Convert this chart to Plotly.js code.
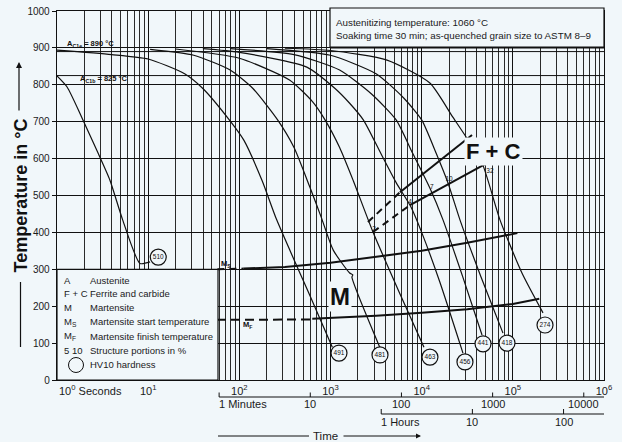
<!DOCTYPE html>
<html><head><meta charset="utf-8">
<script src="https://cdn.plot.ly/plotly-3.0.1.min.js"></script>
<style>html,body{margin:0;padding:0;background:#f1f7fa;}#chart{width:622px;height:442px;}</style>
</head><body><div id="chart"></div>
<script>
// ---------- data (time in seconds, temperature in °C) ----------
const acTime = [1, 1e6];
const ac1eTemp = [890, 890];
const ac1bTemp = [825, 825];

const c1Time = [1, 1.29, 1.86, 2.82, 3.8, 5.25, 8.13, 10.5];
const c1Temp = [824, 794, 713, 615, 542, 434, 316, 320];

const c2Time = [1, 3.98, 10, 25.1, 39.8, 77.6, 112, 178, 257, 631, 1047];
const c2Temp = [894, 882, 870, 830, 790, 705, 650, 540, 434, 214, 89];

const c3Time = [10.5, 31.6, 79.4, 141, 263, 398, 589, 794, 1072, 1622, 1758, 1718, 3467];
const c3Temp = [896, 880, 840, 790, 705, 630, 525, 440, 352, 290, 285, 279, 89];

const c4Time = [20, 100, 355, 631, 871, 1259, 1778, 2924, 5623, 10593];
const c4Temp = [897, 872, 813, 755, 705, 630, 540, 401, 240, 89];

const c5Time = [39.8, 100, 550, 1122, 1622, 2291, 3548, 5248, 7586, 10000, 15849, 28379];
const c5Temp = [898, 888, 848, 790, 750, 705, 615, 535, 470, 400, 265, 73];

const c6Time = [79.4, 398, 1259, 2818, 5248, 7943, 12303, 17140, 28184, 45920];
const c6Temp = [898, 882, 840, 775, 705, 615, 520, 434, 280, 122];

const c7Time = [200, 1000, 3162, 6310, 10000, 14125, 19454, 26303, 44668, 77983];
const c7Temp = [898, 880, 830, 765, 705, 620, 534, 434, 280, 127];

const c8Time = [316, 1000, 4169, 12303, 21878, 32359, 46774, 72277, 125893, 214289];
const c8Temp = [899, 893, 867, 805, 713, 650, 583, 434, 290, 182];

const hvTime = [12.9, 1239, 3491, 12330, 29850, 47100, 86300, 225400];
const hvTemp = [333, 73, 68, 62, 49, 98, 100, 149];
const hvLabels = ['510', '491', '481', '463', '456', '441', '418', '274'];

const msDashTime = [57.5, 112];
const msDashTemp = [300, 302];
const msTime = [112, 316, 1000, 3162, 10000, 31623, 112202];
const msTemp = [302, 306, 318, 333, 350, 372, 398];

const mfDashTime = [56.9, 631];
const mfDashTemp = [163, 164];
const mfTime = [631, 1000, 3162, 10000, 31623, 100000, 194984];
const mfTemp = [166, 168, 174, 182, 192, 206, 220];

const fcStartDashTime = [2576, 5781];
const fcStartDashTemp = [428, 509];
const fcStartTime = [5781, 35645];
const fcStartTemp = [509, 664];

const fcEndDashTime = [2924, 7447];
const fcEndDashTemp = [401, 474];
const fcEndTime = [7447, 52000];
const fcEndTemp = [474, 588];

const pctLabels = ['2', '4', '7', '10', '32'];
const pctTime = [2999, 7447, 12880, 19950, 56100];
const pctTemp = [409, 481, 521, 545, 566];

const yTicks = [0, 100, 200, 300, 400, 500, 600, 700, 800, 900, 1000];
const xTickVals = [1, 10, 100, 1e3, 1e4, 1e5, 1e6];
const xTickText = ['', '10<sup>1</sup>', '10<sup>2</sup>', '10<sup>3</sup>', '10<sup>4</sup>', '10<sup>5</sup>', '10<sup>6</sup>'];
const minuteVals = [60, 600, 6000, 60000, 600000];
const minuteText = ['1 Minutes', '10', '100', '1000', '10000'];
const hourVals = [3600, 36000, 360000];
const hourText = ['1 Hours', '10', '100'];

const legendKeys = ['A', 'F + C', 'M', 'M<sub>S</sub>', 'M<sub>F</sub>', '5 10', ''];
const legendTexts = ['Austenite', 'Ferrite and carbide', 'Martensite', 'Martensite start temperature',
  'Martensite finish temperature', 'Structure portions in %', 'HV10 hardness'];

const boxLines = ['Austenitizing temperature: 1060 °C', 'Soaking time 30 min; as-quenched grain size to ASTM 8–9'];

// ---------- style ----------
const BG = '#f1f7fa';
const INK = '#111111';
const FONT = 'Liberation Sans, Arial, sans-serif';

const minorVals = [];
for (let d = 0; d < 6; d++) for (let m = 2; m <= 9; m++) minorVals.push(m * Math.pow(10, d));

function curve(x, y) {
  return {x: x, y: y, type: 'scatter', mode: 'lines', hoverinfo: 'skip',
    line: {color: INK, width: 1.2, shape: 'spline', smoothing: 0.6}};
}
function thick(x, y, dash) {
  return {x: x, y: y, type: 'scatter', mode: 'lines', hoverinfo: 'skip',
    line: {color: INK, width: 2, dash: dash || 'solid'}};
}

const traces = [
  {x: acTime, y: ac1eTemp, type: 'scatter', mode: 'lines', line: {color: INK, width: 1}},
  {x: acTime, y: ac1bTemp, type: 'scatter', mode: 'lines', line: {color: INK, width: 1}},
  curve(c1Time, c1Temp), curve(c2Time, c2Temp), curve(c3Time, c3Temp), curve(c4Time, c4Temp),
  curve(c5Time, c5Temp), curve(c6Time, c6Temp), curve(c7Time, c7Temp), curve(c8Time, c8Temp),
  thick(msDashTime, msDashTemp, '7px,5px'), thick(msTime, msTemp),
  thick(mfDashTime, mfDashTemp, '9px,5px'), thick(mfTime, mfTemp),
  thick(fcStartDashTime, fcStartDashTemp, '7px,5px'), thick(fcStartTime, fcStartTemp),
  thick(fcEndDashTime, fcEndDashTemp, '7px,5px'), thick(fcEndTime, fcEndTemp),
  {x: hvTime, y: hvTemp, type: 'scatter', mode: 'markers+text', text: hvLabels,
    textposition: 'middle center', textfont: {size: 6.5, color: INK, family: FONT},
    marker: {symbol: 'circle', size: 16, color: BG, line: {color: INK, width: 1.2}}},
  {x: pctTime, y: pctTemp, type: 'scatter', mode: 'text', text: pctLabels,
    textposition: 'middle center', textfont: {size: 6.5, color: INK, family: FONT}}
];

// pixel helpers for paper coordinates (plot area x 57..604, y 11..380)
const px = p => (p - 57) / 547;
const py = p => (380 - p) / 369;

const shapes = [
  {type: 'rect', xref: 'paper', yref: 'paper', x0: 0, x1: px(218), y0: 0, y1: 0.3,
    fillcolor: BG, line: {color: INK, width: 1.2}},
  {type: 'rect', xref: 'paper', yref: 'paper', x0: px(330), x1: 1, y0: py(47.5), y1: py(8),
    fillcolor: BG, line: {color: INK, width: 1.2}},
  {type: 'line', xref: 'paper', yref: 'paper', x0: px(330), x1: 1, y0: py(47.5), y1: py(47.5),
    line: {color: INK, width: 2}},
  {type: 'circle', xref: 'paper', yref: 'paper', x0: px(68.5), x1: px(83.5), y0: py(372.5), y1: py(357.5),
    line: {color: INK, width: 1}},
  {type: 'line', xref: 'paper', yref: 'paper', x0: px(20.5), x1: px(20.5), y0: py(347), y1: py(282),
    line: {color: INK, width: 1.2}},
  {type: 'line', xref: 'paper', yref: 'paper', x0: px(218), x1: px(309), y0: py(436), y1: py(436),
    line: {color: INK, width: 1}},
  {type: 'line', xref: 'x', yref: 'paper', x0: minuteVals[0], x1: 1e6, y0: py(397), y1: py(397),
    line: {color: INK, width: 1.2}},
  {type: 'line', xref: 'x', yref: 'paper', x0: hourVals[0], x1: 1e6, y0: py(414), y1: py(414),
    line: {color: INK, width: 1.2}}
];
minuteVals.forEach(v => shapes.push({type: 'line', xref: 'x', yref: 'paper', x0: v, x1: v,
  y0: py(397), y1: py(392.5), line: {color: INK, width: 1}}));
hourVals.forEach(v => shapes.push({type: 'line', xref: 'x', yref: 'paper', x0: v, x1: v,
  y0: py(414), y1: py(409), line: {color: INK, width: 1}}));

const annotations = [];
const ann = o => annotations.push(Object.assign({showarrow: false, font: {family: FONT, size: 10, color: '#1a1a1a'}}, o));

ann({xref: 'x', yref: 'paper', x: 0, y: 0, xanchor: 'left', yanchor: 'top', yshift: -1,
  text: '10<sup>0</sup> Seconds', font: {family: FONT, size: 11, color: '#1a1a1a'}});
minuteVals.forEach((v, i) => ann({xref: 'x', yref: 'paper', x: Math.log10(v), y: py(403.5),
  xanchor: i === 0 ? 'left' : 'center', yanchor: 'middle', xshift: i === 0 ? -2 : 0, text: minuteText[i],
  font: {family: FONT, size: 11, color: '#1a1a1a'}}));
hourVals.forEach((v, i) => ann({xref: 'x', yref: 'paper', x: Math.log10(v), y: py(422),
  xanchor: i === 0 ? 'left' : 'center', yanchor: 'middle', xshift: i === 0 ? -2 : 0, text: hourText[i],
  font: {family: FONT, size: 11, color: '#1a1a1a'}}));
ann({xref: 'paper', yref: 'paper', x: px(325.5), y: py(436), xanchor: 'center', yanchor: 'middle',
  text: 'Time', font: {family: FONT, size: 11.5, color: '#1a1a1a'}});
annotations.push({xref: 'paper', yref: 'paper', x: px(421), y: py(436), ax: -79, ay: 0, text: '',
  showarrow: true, arrowhead: 2, arrowsize: 1, arrowwidth: 1, arrowcolor: INK});

ann({xref: 'paper', yref: 'paper', x: px(20.5), y: py(196), xanchor: 'center', yanchor: 'middle',
  textangle: -90, text: '<b>Temperature in °C</b>', font: {family: FONT, size: 18, color: '#111'}});
annotations.push({xref: 'paper', yref: 'paper', x: px(19), y: py(62), ax: 0, ay: 50, text: '',
  showarrow: true, arrowhead: 2, arrowsize: 1, arrowwidth: 1.2, arrowcolor: INK});

boxLines.forEach((t, i) => ann({xref: 'paper', yref: 'paper', x: px(334), y: py(i === 0 ? 22.5 : 35),
  xanchor: 'left', yanchor: 'middle', text: t, font: {family: FONT, size: 9.8, color: '#1a1a1a'}}));

const rowY = [280, 293, 307.5, 321.5, 336, 350, 364.5];
legendKeys.forEach((k, i) => {
  if (k) ann({xref: 'paper', yref: 'paper', x: px(62), y: py(rowY[i]), xanchor: 'left', yanchor: 'middle',
    text: k, font: {family: FONT, size: 9.5, color: '#1a1a1a'}});
  ann({xref: 'paper', yref: 'paper', x: px(87.5), y: py(rowY[i]), xanchor: 'left', yanchor: 'middle',
    text: legendTexts[i], font: {family: FONT, size: 9.5, color: '#1a1a1a'}});
});

ann({xref: 'paper', yref: 'y', x: px(65), y: 910, xanchor: 'left', yanchor: 'middle',
  text: '<b>A<sub>C1e</sub> = 890 °C</b>', font: {family: FONT, size: 7.5, color: INK}});
ann({xref: 'paper', yref: 'y', x: px(78), y: 815, xanchor: 'left', yanchor: 'middle',
  text: '<b>A<sub>C1b</sub> = 825 °C</b>', font: {family: FONT, size: 7.5, color: INK}});
ann({xref: 'x', yref: 'y', x: Math.log10(71.5), y: 314, xanchor: 'center', yanchor: 'middle',
  text: '<b>M<sub>S</sub></b>', font: {family: FONT, size: 7.5, color: INK}});
ann({xref: 'x', yref: 'y', x: Math.log10(124.5), y: 148, xanchor: 'center', yanchor: 'middle',
  text: '<b>M<sub>F</sub></b>', font: {family: FONT, size: 7.5, color: INK}});
ann({xref: 'x', yref: 'y', x: Math.log10(1270), y: 225, xanchor: 'center', yanchor: 'middle',
  text: '<b>M</b>', bgcolor: BG, font: {family: FONT, size: 24, color: INK}});
ann({xref: 'x', yref: 'y', x: Math.log10(62100), y: 620, xanchor: 'center', yanchor: 'middle',
  text: '<b>F + C</b>', bgcolor: BG, font: {family: FONT, size: 22, color: INK}});

const layout = {
  width: 622, height: 442,
  margin: {l: 57, r: 18, t: 11, b: 62},
  paper_bgcolor: BG, plot_bgcolor: BG,
  showlegend: false,
  font: {family: FONT, color: '#1a1a1a'},
  xaxis: {type: 'log', range: [0, 6], tickmode: 'array', tickvals: xTickVals, ticktext: xTickText,
    showgrid: true, gridcolor: '#111111', gridwidth: 1.3, ticks: '', showline: true, mirror: true,
    linecolor: INK, linewidth: 1.3, zeroline: false, tickfont: {size: 11, color: '#1a1a1a'},
    minor: {tickmode: 'array', tickvals: minorVals, showgrid: true, gridcolor: '#2a2a2a', gridwidth: 1, ticks: ''}},
  yaxis: {range: [0, 1000], tickmode: 'array', tickvals: yTicks, showgrid: true, gridcolor: '#111111',
    gridwidth: 1, ticks: 'outside', ticklen: 4, tickcolor: INK, showline: true, mirror: true,
    linecolor: INK, linewidth: 1.3, zeroline: false, tickfont: {size: 10, color: '#1a1a1a'}},
  shapes: shapes,
  annotations: annotations
};

Plotly.newPlot('chart', traces, layout, {displayModeBar: false, staticPlot: true});
</script>
</body></html>
